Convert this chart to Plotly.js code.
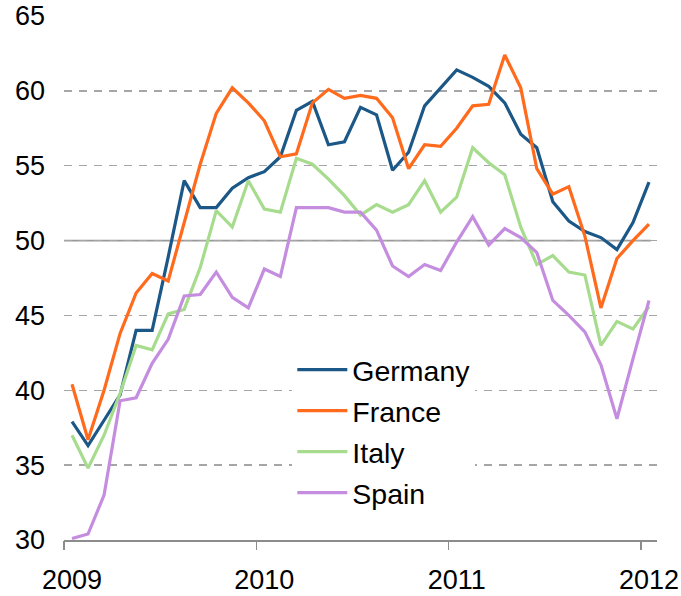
<!DOCTYPE html>
<html>
<head>
<meta charset="utf-8">
<script src="https://cdn.plot.ly/plotly-3.0.1.min.js"></script>
<style>html,body{margin:0;padding:0;background:#fff;}#chart{width:681px;height:596px;}</style>
</head>
<body>
<div id="chart"></div>
<script>
// Monthly index values, Jan 2009 .. Jan 2012
const months = Array.from({length: 37}, (_, i) => i);
const germany = [37.9, 36.3, 38.0, 39.7, 44.0, 44.0, 48.9, 54.0, 52.2, 52.2, 53.5, 54.2,
                 54.6, 55.6, 58.7, 59.3, 56.4, 56.6, 58.9, 58.4, 54.7, 55.9, 59.0, 60.2,
                 61.4, 60.9, 60.3, 59.2, 57.1, 56.2, 52.6, 51.3, 50.6, 50.2, 49.4, 51.2, 53.9];
const france  = [40.4, 36.7, 40.0, 43.8, 46.5, 47.8, 47.3, 51.3, 55.1, 58.5, 60.2, 59.2,
                 58.0, 55.6, 55.8, 59.2, 60.1, 59.5, 59.7, 59.5, 58.2, 54.8, 56.4, 56.3,
                 57.5, 59.0, 59.1, 62.4, 60.2, 54.8, 53.1, 53.6, 50.3, 45.5, 48.8, 50.0, 51.1];
const italy   = [37.0, 34.8, 37.0, 39.8, 43.0, 42.7, 45.1, 45.4, 48.2, 52.0, 50.9, 54.0,
                 52.1, 51.9, 55.5, 55.1, 54.1, 53.0, 51.7, 52.4, 51.9, 52.4, 54.0, 51.9,
                 52.9, 56.2, 55.2, 54.4, 50.9, 48.4, 49.0, 47.9, 47.7, 43.0, 44.6, 44.1, 45.6];
const spain   = [30.1, 30.4, 33.0, 39.3, 39.5, 41.8, 43.4, 46.3, 46.4, 47.9, 46.2, 45.5,
                 48.1, 47.6, 52.2, 52.2, 52.2, 51.9, 51.9, 50.7, 48.3, 47.6, 48.4, 48.0,
                 49.9, 51.6, 49.7, 50.8, 50.2, 49.2, 46.0, 45.0, 43.9, 41.7, 38.1, 42.1, 46.0];
const seriesNames = ['Germany', 'France', 'Italy', 'Spain'];
const yearLabels = ['2009', '2010', '2011', '2012'];
const yearLabelPos = [0, 12, 24, 36];
const yearBoundaries = [-0.5, 11.5, 23.5, 35.5];
const yTicks = [30, 35, 40, 45, 50, 55, 60, 65];
const referenceLevel = 50;

const colors = ['#1b5887', '#ff6a1c', '#a7dc8e', '#c48ddf'];
const seriesData = [germany, france, italy, spain];

const traces = seriesData.map((vals, k) => ({
  x: months, y: vals, type: 'scatter', mode: 'lines',
  name: seriesNames[k], legendgroup: seriesNames[k],
  line: {color: colors[k], width: 3.2},
  hoverinfo: 'skip'
}));

const font = {family: 'Liberation Sans, Arial, sans-serif', color: '#000'};
const xr = [-0.5, 36.5];

const layout = {
  width: 681, height: 596,
  margin: {l: 64, r: 24, t: 16, b: 55.5, pad: 0},
  paper_bgcolor: '#fff', plot_bgcolor: '#fff',
  font: font,
  showlegend: true,
  legend: {
    x: 0.385, xanchor: 'left', y: 0.373, yanchor: 'top',
    bgcolor: '#fff', borderwidth: 0,
    font: {family: font.family, size: 28.5, color: '#000'},
    itemwidth: 50, tracegroupgap: 1
  },
  xaxis: {
    range: xr, tickvals: yearLabelPos, ticktext: yearLabels,
    ticks: '', showgrid: false, zeroline: false,
    showline: true, linecolor: '#8c8c8c', linewidth: 1.5,
    tickfont: {family: font.family, size: 27, color: '#000'},
    ticklabelstandoff: 15
  },
  xaxis2: {
    range: xr, overlaying: 'x', anchor: 'y', side: 'bottom',
    tickvals: yearBoundaries, ticks: 'outside', ticklen: 9, tickwidth: 1.5,
    tickcolor: '#8c8c8c', showticklabels: false, showgrid: false,
    zeroline: false, showline: false
  },
  yaxis: {
    range: [30, 65], tickvals: yTicks, ticks: '',
    showgrid: true, gridcolor: '#a6a6a6', gridwidth: 1.3, griddash: '8px,7px',
    zeroline: false, showline: false,
    tickfont: {family: font.family, size: 27, color: '#000'},
    ticklabelstandoff: 18
  },
  shapes: [{
    type: 'line', xref: 'paper', x0: 0, x1: 0.99, yref: 'y', y0: referenceLevel, y1: referenceLevel,
    line: {color: '#999999', width: 1.8}, layer: 'between'
  }]
};

traces.push({x: [], y: [], xaxis: 'x2', yaxis: 'y', type: 'scatter', showlegend: false, hoverinfo: 'skip'});

Plotly.newPlot('chart', traces, layout, {staticPlot: true, displayModeBar: false});
</script>
</body>
</html>
